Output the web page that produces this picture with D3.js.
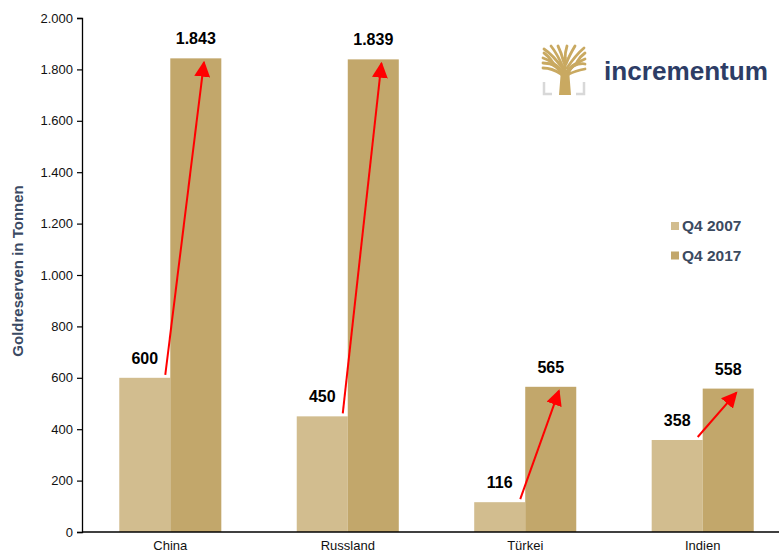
<!DOCTYPE html>
<html>
<head>
<meta charset="utf-8">
<script src="https://cdn.jsdelivr.net/npm/d3@7"></script>
<style>
  html, body { margin: 0; padding: 0; background: #fff; }
  svg { display: block; font-family: "Liberation Sans", Arial, sans-serif; }
</style>
</head>
<body>
<svg id="chart" width="779" height="554"></svg>
<script>
const categories = ["China", "Russland", "Türkei", "Indien"];
const seriesNames = ["Q4 2007", "Q4 2017"];
const values2007 = [600, 450, 116, 358];
const values2017 = [1843, 1839, 565, 558];
const yTicks = [0, 200, 400, 600, 800, 1000, 1200, 1400, 1600, 1800, 2000];
const yTitle = "Goldreserven in Tonnen";

const colors = ["#d2bd8f", "#c2a76b"];
const fmt = v => d3.format(",")(v).replace(/,/g, ".");

const svg = d3.select("#chart");
const W = 779, H = 554;
const m = { left: 82, top: 18, bottom: 532 };

const x = d3.scaleBand().domain(categories).range([m.left, 791]).paddingInner(0.425).paddingOuter(0.21);
const xs = d3.scaleBand().domain(seriesNames).range([0, x.bandwidth()]);
const y = d3.scaleLinear().domain([0, 2000]).range([m.bottom, m.top]);

// y axis
const yAxis = d3.axisLeft(y).tickValues(yTicks).tickSize(5).tickPadding(4).tickFormat(fmt);
const gy = svg.append("g").attr("transform", `translate(${m.left},0)`).call(yAxis);
gy.select(".domain").attr("stroke", "#000").attr("stroke-width", 1.3);
gy.selectAll(".tick line").attr("stroke", "#000").attr("stroke-width", 1.2);
gy.selectAll(".tick text").attr("font-size", 13).attr("fill", "#111").attr("font-family", "Liberation Sans, Arial, sans-serif");

// bars
const data = categories.map((c, i) => ({ c, v: [values2007[i], values2017[i]] }));
const groups = svg.append("g").selectAll("g").data(data).join("g")
  .attr("transform", d => `translate(${x(d.c)},0)`);
groups.selectAll("rect").data(d => d.v.map((v, j) => ({ v, s: seriesNames[j], j })))
  .join("rect")
  .attr("x", d => xs(d.s))
  .attr("width", xs.bandwidth())
  .attr("y", d => y(d.v))
  .attr("height", d => y(0) - y(d.v))
  .attr("fill", d => colors[d.j]);

// x axis
const xAxis = d3.axisBottom(x).tickSize(0).tickPadding(9);
const gx = svg.append("g").attr("transform", `translate(0,${m.bottom})`).call(xAxis);
gx.select(".domain").attr("d", `M${m.left},0H${W}`).attr("stroke", "#000").attr("stroke-width", 1.5);
gx.selectAll(".tick text").attr("font-size", 13).attr("fill", "#111").attr("font-family", "Liberation Sans, Arial, sans-serif");

// value labels
groups.selectAll("text.val").data(d => d.v.map((v, j) => ({ v, s: seriesNames[j], j })))
  .join("text").attr("class", "val")
  .attr("x", d => xs(d.s) + xs.bandwidth() / 2)
  .attr("y", d => y(d.v) - 14)
  .attr("text-anchor", "middle")
  .attr("font-size", 16).attr("font-weight", "bold").attr("fill", "#000")
  .text(d => fmt(d.v));

// arrows
const defs = svg.append("defs");
defs.append("marker").attr("id", "ah").attr("viewBox", "0 0 10 10")
  .attr("refX", 9).attr("refY", 5).attr("markerWidth", 8).attr("markerHeight", 8)
  .attr("markerUnits", "strokeWidth").attr("orient", "auto")
  .append("path").attr("d", "M0,0L10,5L0,10Z").attr("fill", "#ff0000");

groups.append("line")
  .attr("x1", d => xs(seriesNames[1]) - 5)
  .attr("y1", d => y(d.v[0]) - 3)
  .attr("x2", d => xs(seriesNames[1]) + xs.bandwidth() * 0.66)
  .attr("y2", d => y(d.v[1]) + 4)
  .attr("stroke", "#ff0000").attr("stroke-width", 2)
  .attr("marker-end", "url(#ah)");

// y title
svg.append("text")
  .attr("transform", `translate(23,271) rotate(-90)`)
  .attr("text-anchor", "middle")
  .attr("font-size", 15).attr("font-weight", "bold").attr("fill", "#3b4a63")
  .text(yTitle);

// legend
const lg = svg.append("g");
seriesNames.forEach((s, i) => {
  lg.append("rect").attr("x", 671).attr("y", 222 + i * 29.5).attr("width", 8).attr("height", 8).attr("fill", colors[i]);
  lg.append("text").attr("x", 682).attr("y", 231 + i * 29.5)
    .attr("font-size", 15.5).attr("font-weight", "bold").attr("fill", "#3b4a5f").text(s);
});

// logo
const logo = svg.append("g").attr("transform", "translate(543,45)");
const gold = "#c9a961";
// trunk
logo.append("path").attr("fill", gold)
  .attr("d", "M16,50 L17.5,31 C17,27 13,23 7,20 L9,17 C14,20 18,23 20,26 L20.5,12 L23.5,12 L23.5,25 C26,21 30,18 35,16 L36.5,19 C30,22 27,26 26.5,31 L28,50 Z");
// branches
const br = [
  "M19,26 C13,19 6,15 0,13", "M20,24 C13,14 7,8 1,4", "M20,22 C16,13 12,6 8,1",
  "M21,18 C19,10 17,5 15,1", "M22,15 C22,8 23,4 24,1", "M23,19 C26,11 29,6 32,1",
  "M24,23 C30,14 35,8 41,3", "M25,26 C31,20 37,16 42,14", "M18,29 C12,25 5,23 0,23",
  "M26,29 C32,26 37,25 42,24", "M10,18 C7,13 4,10 1,8", "M34,17 C37,12 39,10 42,8",
  "M14,21 C9,19 4,18 0,18", "M30,21 C35,19 39,18 42,19"
];
logo.selectAll("path.br").data(br).join("path").attr("class", "br")
  .attr("d", d => d).attr("fill", "none").attr("stroke", gold).attr("stroke-width", 2.8).attr("stroke-linecap", "round");
// gray brackets
logo.append("path").attr("d", "M1,37 V49 H9").attr("fill", "none").attr("stroke", "#d8d8d8").attr("stroke-width", 2.5);
logo.append("path").attr("d", "M41,37 V49 H33").attr("fill", "none").attr("stroke", "#d8d8d8").attr("stroke-width", 2.5);

svg.append("text").attr("x", 604).attr("y", 80)
  .attr("font-size", 26).attr("font-weight", "bold").attr("fill", "#2d3d66")
  .attr("textLength", 164).attr("lengthAdjust", "spacingAndGlyphs")
  .text("incrementum");
</script>
</body>
</html>
